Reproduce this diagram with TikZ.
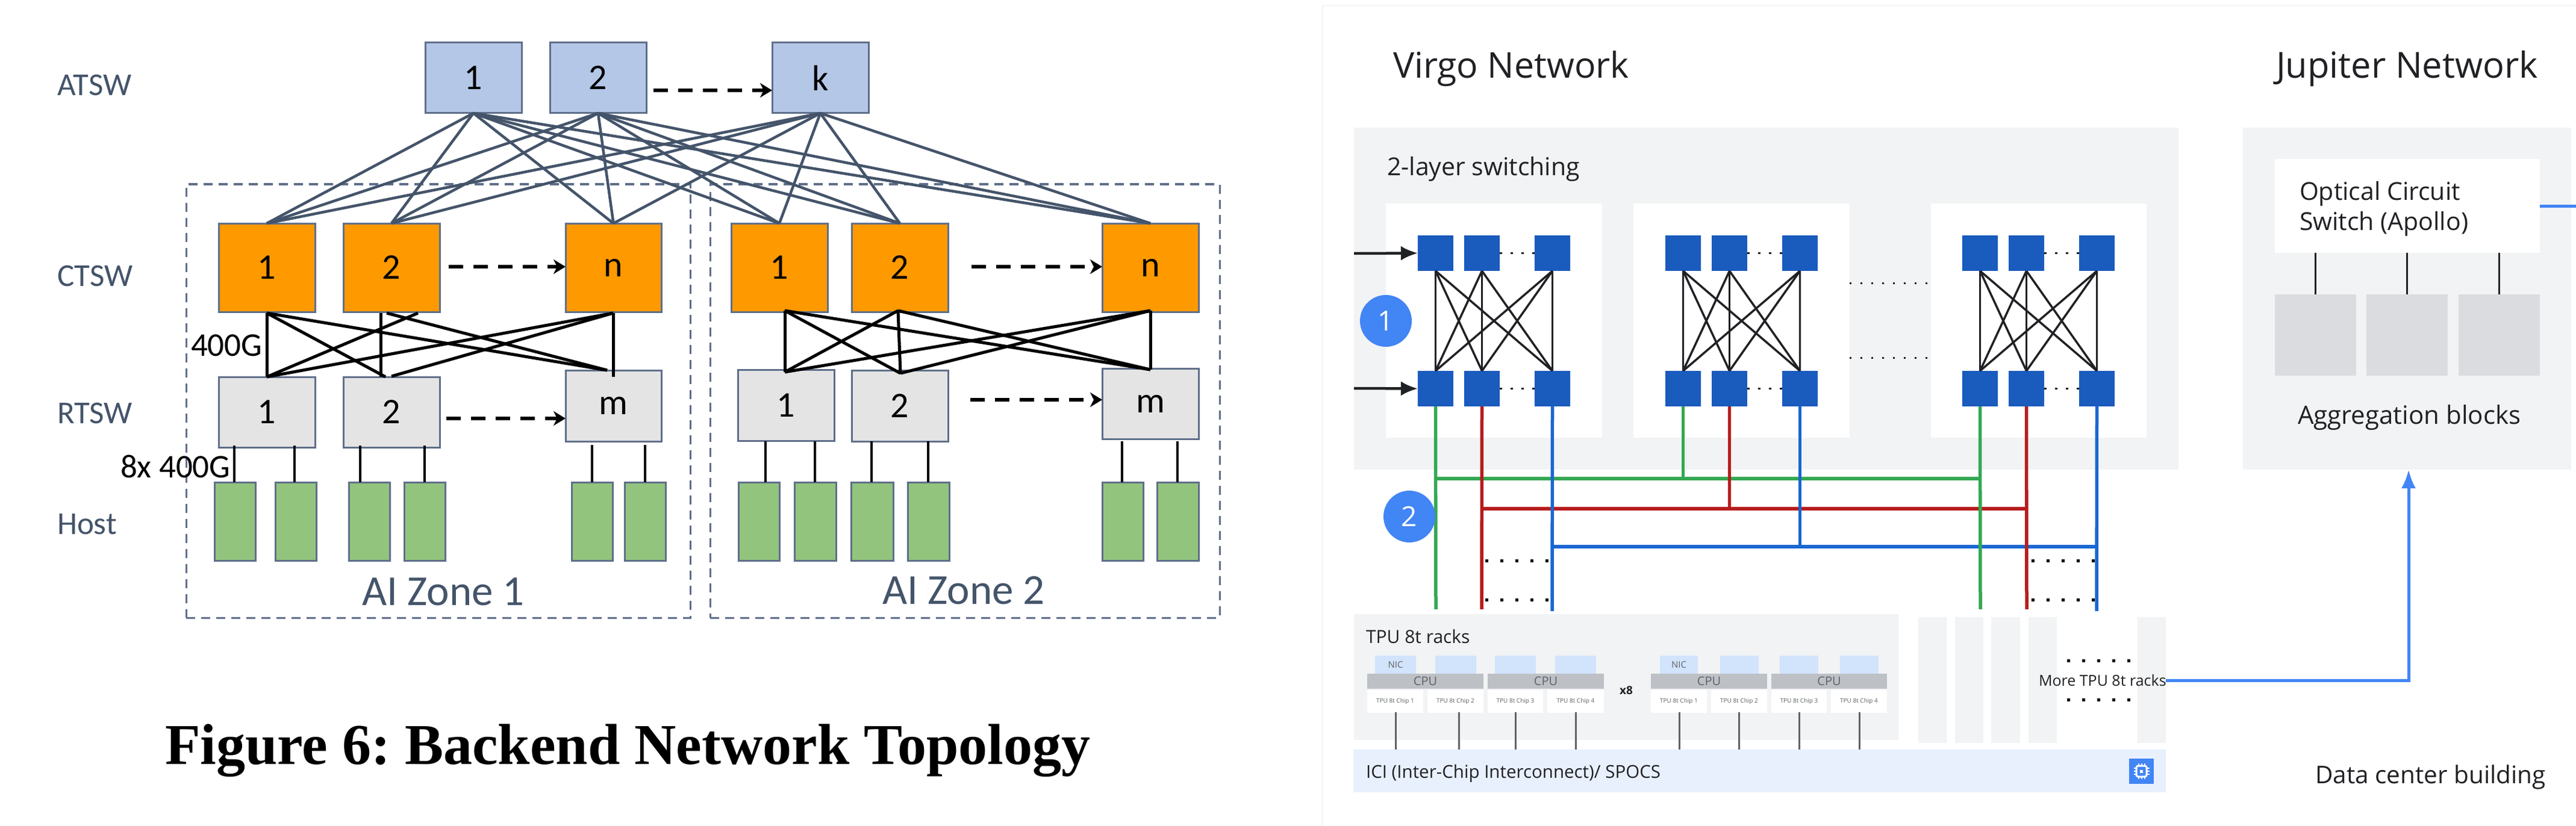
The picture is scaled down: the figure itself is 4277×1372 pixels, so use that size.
\documentclass[tikz,border=0pt]{standalone}
\usepackage{fontspec}
\usetikzlibrary{arrows.meta,calc}
\setmainfont{Open Sans}
\newfontfamily\cali{Carlito}
\newfontfamily\capf{Liberation Serif}
\newfontfamily\gsf{Open Sans}
\frenchspacing
\newcommand{\fs}[1]{\fontsize{#1}{#1}\selectfont}
\definecolor{slate}{HTML}{44546A}
\definecolor{edgec}{HTML}{5F6F8A}
\definecolor{atc}{HTML}{B4C7E7}
\definecolor{ctc}{HTML}{FF9900}
\definecolor{rtc}{HTML}{E4E4E4}
\definecolor{hoc}{HTML}{93C47D}
\definecolor{pan}{HTML}{F1F3F4}
\definecolor{sqb}{HTML}{1A5BBE}
\definecolor{gb}{HTML}{4285F4}
\definecolor{gg}{HTML}{34A853}
\definecolor{gr}{HTML}{B71C1C}
\definecolor{gbl}{HTML}{1967D2}
\definecolor{ink}{HTML}{202124}
\definecolor{mid}{HTML}{5F6368}
\definecolor{nicc}{HTML}{D2E3FC}
\definecolor{cpuc}{HTML}{BDC1C6}
\definecolor{icic}{HTML}{E8F0FE}
\definecolor{blk}{HTML}{DADCE0}
\newcommand{\boxn}[7]{%
  \pgfmathsetmacro\bw{#5-#3}\pgfmathsetmacro\bh{#6-#4}%
  \pgfmathsetmacro\cx{(#3+#5)/2}\pgfmathsetmacro\cy{(#4+#6)/2}%
  \node[#1,minimum width=\bw pt,minimum height=\bh pt] (#2) at (\cx,\cy) {#7};}
\newcommand{\vlink}[4]{\coordinate (#1) at (#2,#3); \draw[hostlink] (#1) -- (#1 |- #4.north);}
\tikzset{
  every node/.style={inner sep=0pt,outer sep=0pt},
  bx/.style={rectangle},
  sw/.style={bx,draw=edgec,line width=3pt,font=\cali\fs{60}},
  atsw/.style={sw,fill=atc},
  ctsw/.style={sw,fill=ctc},
  rtsw/.style={sw,fill=rtc},
  hostb/.style={bx,draw=edgec,line width=3pt,fill=hoc},
  zone/.style={bx,draw=edgec,line width=3pt,dash pattern=on 15pt off 10pt},
  lay/.style={anchor=base west,text=slate,font=\cali\fs{53}},
  zonet/.style={anchor=base,text=slate,font=\cali\fs{71}},
  rate/.style={anchor=base west,text=black,font=\cali\fs{55}},
  upmesh/.style={draw=slate,line width=4.5pt},
  lowmesh/.style={draw=black,line width=5pt},
  hostlink/.style={draw=black,line width=4.5pt},
  dasharr/.style={draw=black,line width=6pt,dash pattern=on 24pt off 17pt,-{Stealth[length=20pt,width=24pt,inset=6pt]}},
  pl/.style={bx,fill=pan},
  wh/.style={bx,fill=white},
  sq/.style={bx,fill=sqb},
  gt/.style={anchor=base west,text=ink,font=\gsf},
  vm/.style={draw=ink,line width=3.5pt},
  inarr/.style={draw=ink,line width=4.5pt,-{Latex[length=28pt,width=24pt]}},
  dotsmall/.style={draw=ink,line width=3.5pt,dash pattern=on 3.5pt off 14.5pt},
  dotbig/.style={draw=black,line width=5pt,dash pattern=on 5pt off 20pt},
  cir/.style={circle,fill=gb,minimum size=86pt,text=white,font=\gsf\fs{46}},
  gl/.style={draw=gg,line width=5.5pt},
  rl/.style={draw=gr,line width=5.5pt},
  bl/.style={draw=gbl,line width=5.5pt},
  chipl/.style={draw=mid,line width=3pt},
  nicb/.style={bx,fill=nicc,text=mid,font=\gsf\fs{15}},
  cpub/.style={bx,fill=cpuc,text=mid,font=\gsf\fs{20}},
  chipb/.style={bx,fill=white,text=mid,font=\gsf\fs{10}},
  upl/.style={draw=gb,line width=5pt},
}
\begin{document}
\begin{tikzpicture}[x=1pt,y=-1pt]
\useasboundingbox (0,0) rectangle (4277,1372);
\fill[white] (0,0) rectangle (4277,1372);
% ---------- left figure ----------
\boxn{zone}{z1}{309}{306}{1146}{1026}{}
\boxn{zone}{z2}{1179}{306}{2025}{1026}{}
\boxn{atsw}{a1}{706}{71}{866}{188}{1}
\boxn{atsw}{a2}{913}{71}{1073}{188}{2}
\boxn{atsw}{ak}{1282}{71}{1442}{188}{k}
\boxn{ctsw}{ca1}{363}{371}{523}{518}{1}
\boxn{ctsw}{ca2}{570}{371}{730}{518}{2}
\boxn{ctsw}{can}{939}{371}{1098}{518}{n}
\boxn{ctsw}{cb1}{1214}{371}{1374}{518}{1}
\boxn{ctsw}{cb2}{1414}{371}{1574}{518}{2}
\boxn{ctsw}{cbn}{1830}{371}{1990}{518}{n}
\boxn{rtsw}{ra1}{363}{626}{523}{743}{1}
\boxn{rtsw}{ra2}{570}{626}{730}{743}{2}
\boxn{rtsw}{ram}{939}{615}{1098}{733}{m}
\boxn{rtsw}{rb1}{1225}{614}{1385}{732}{1}
\boxn{rtsw}{rb2}{1414}{615}{1574}{733}{2}
\boxn{rtsw}{rbm}{1830}{612}{1990}{729}{m}
\foreach \nm/\xa/\xb in {h1/356/424,h2/457/525,h3/579/647,h4/671/739,h5/949/1017,h6/1037/1105,
  k1/1226/1294,k2/1319/1388,k3/1413/1483,k4/1507/1576,k5/1830/1898,k6/1921/1990}{
  \boxn{hostb}{\nm}{\xa}{801}{\xb}{931}{}
}
% ATSW to CTSW
\foreach \pp in {a1,a2,ak}\foreach \qq in {ca1,ca2,can,cb1,cb2,cbn}{
  \draw[upmesh] (\pp.south) -- (\qq.north);
}
% CTSW to RTSW zone 1
\coordinate (ua1) at (443,520); \coordinate (ua2) at (632,520);
\coordinate (ua2l) at (694,520); \coordinate (ua2r) at (642,520);
\coordinate (uan) at (1018,520);
\coordinate (la1) at (443,626); \coordinate (la2) at (640,626);
\coordinate (la2r) at (650,625); \coordinate (la2v) at (632,626);
\coordinate (lam) at (1018,626); \coordinate (lamb) at (1008,615);
\draw[lowmesh] (ua1) -- (la1);
\draw[lowmesh] (ua1) -- (la2);
\draw[lowmesh] (ua1) -- (lamb);
\draw[lowmesh] (ua2) -- (la2v);
\draw[lowmesh] (ua2l) -- (la1);
\draw[lowmesh] (ua2r) -- (lamb);
\draw[lowmesh] (uan) -- (la1);
\draw[lowmesh] (uan) -- (la2r);
\draw[lowmesh] (uan) -- (lam);
% CTSW to RTSW zone 2
\coordinate (ub1) at (1303,516); \coordinate (ub2) at (1491,516); \coordinate (ubn) at (1910,516);
\coordinate (lb1) at (1303,618); \coordinate (lb2) at (1495,620); \coordinate (lbm) at (1910,614);
\foreach \pp in {ub1,ub2,ubn}\foreach \qq in {lb1,lb2,lbm}{
  \draw[lowmesh] (\pp) -- (\qq);
}
% RTSW to hosts
\vlink{p1}{389}{740}{h1} \vlink{p2}{489}{740}{h2} \vlink{p3}{598}{740}{h3}
\vlink{p4}{705}{740}{h4} \vlink{p5}{983}{739}{h5} \vlink{p6}{1071}{739}{h6}
\vlink{q1}{1271}{733}{k1} \vlink{q2}{1353}{733}{k2} \vlink{q3}{1447}{733}{k3}
\vlink{q4}{1541}{733}{k4} \vlink{q5}{1863}{733}{k5} \vlink{q6}{1955}{733}{k6}
% dashed arrows
\coordinate (d1s) at (1085,150); \draw[dasharr] (d1s) -- (d1s -| ak.west);
\coordinate (d2s) at (745,443); \draw[dasharr] (d2s) -- (d2s -| can.west);
\coordinate (d3s) at (741,695); \draw[dasharr] (d3s) -- (d3s -| ram.west);
\coordinate (d4s) at (1613,443); \draw[dasharr] (d4s) -- (d4s -| cbn.west);
\coordinate (d5s) at (1611,664); \draw[dasharr] (d5s) -- (d5s -| rbm.west);
% labels
\node[lay] (tat) at (95,159) {ATSW};
\node[lay] (tct) at (95,475) {CTSW};
\node[lay] (trt) at (95,703) {RTSW};
\node[lay] (tho) at (95,887) {Host};
\node[rate] (t400) at (317,591) {400G};
\node[rate] (t8x) at (200,793) {8x 400G};
\node[zonet] (tz1) at (736,1005) {AI Zone 1};
\node[zonet] (tz2) at (1600,1003) {AI Zone 2};
\node[anchor=base west,font=\capf\bfseries\fs{96}] (cap) at (274,1269) {Figure 6: Backend Network Topology};
% ---------- right figure ----------
\draw[color=black!3,line width=3pt] (2195,1372) -- (2195,10) -- (4277,10);
\node[gt,font=\gsf\fs{59}] (tv) at (2313,130) {Virgo Network};
\node[gt,font=\gsf\fs{59.5}] (tj) at (3779,130) {Jupiter Network};
\boxn{pl}{vp}{2248}{212}{3617}{780}{}
\boxn{pl}{jp}{3724}{212}{4269}{780}{}
\node[gt,font=\gsf\fs{41}] (t2l) at (2303,292) {2-layer switching};
\boxn{wh}{w1}{2301}{338}{2660}{727}{}
\boxn{wh}{w2}{2712}{338}{3071}{727}{}
\boxn{wh}{w3}{3206}{338}{3564}{727}{}
\foreach \g/\xa/\xb/\xc in {a/2354/2431/2548,b/2765/2842/2959,c/3258/3335/3452}{
  \pgfmathsetmacro\xaa{\xa+59}\pgfmathsetmacro\xbb{\xb+59}\pgfmathsetmacro\xcc{\xc+59}
  \boxn{sq}{t\g1}{\xa}{391}{\xaa}{450}{}
  \boxn{sq}{t\g2}{\xb}{391}{\xbb}{450}{}
  \boxn{sq}{t\g3}{\xc}{391}{\xcc}{450}{}
  \boxn{sq}{b\g1}{\xa}{616}{\xaa}{675}{}
  \boxn{sq}{b\g2}{\xb}{616}{\xbb}{675}{}
  \boxn{sq}{b\g3}{\xc}{616}{\xcc}{675}{}
  \draw[dotsmall] (t\g2.east) -- (t\g3.west);
  \draw[dotsmall] (b\g2.east) -- (b\g3.west);
  \foreach \pp in {1,2,3}\foreach \qq in {1,2,3}{
    \draw[vm] (t\g\pp.south) -- (b\g\qq.north);
  }
}
\coordinate (in1) at (2248,421); \draw[inarr] (in1) -- (ta1.west);
\coordinate (in2) at (2248,645); \draw[inarr] (in2) -- (ba1.west);
\draw[draw=ink,line width=3pt,dash pattern=on 3pt off 15pt] (w2.east |- 0,470) -- (w3.west |- 0,470);
\draw[draw=ink,line width=3pt,dash pattern=on 3pt off 15pt] (w2.east |- 0,594) -- (w3.west |- 0,594);
\node[cir] (n1) at (2301,533) {1};
% racks
\boxn{pl}{rk}{2248}{1020}{3152}{1229}{}
\foreach \nm/\xa/\xb in {r1/3185/3232,r2/3246/3293,r3/3306/3354,r4/3368/3415,r5/3549/3596}{
  \boxn{pl}{\nm}{\xa}{1025}{\xb}{1234}{}
}
\boxn{bx,fill=icic}{ici}{2247}{1245}{3596}{1316}{}
\foreach \nm/\xa/\xb/\tx in {na1/2283/2351/NIC,na2/2383/2451/,na3/2482/2550/,na4/2582/2650/,
  nb1/2756/2819/NIC,nb2/2856/2920/,nb3/2955/3019/,nb4/3055/3119/}{
  \boxn{nicb}{\nm}{\xa}{1089}{\xb}{1119}{\tx}
}
\foreach \nm/\xa/\xb in {ua/2270/2463,ub/2470/2663,uc/2741/2934,ud/2941/3133}{
  \boxn{cpub}{\nm}{\xa}{1119}{\xb}{1144}{CPU}
}
\foreach \nm/\xa/\xb/\lx/\tx in {
  ca/2270/2363/2317/1,cb/2370/2463/2422/2,cc/2470/2562/2516/3,cd/2569/2663/2616/4,
  ce/2741/2834/2788/1,cf/2841/2934/2887/2,cg/2941/3033/2987/3,ch/3040/3133/3087/4}{
  \boxn{chipb}{\nm}{\xa}{1146}{\xb}{1184}{TPU 8t Chip \tx}
  \coordinate (s\nm) at (\lx,1183);
  \draw[chipl] (s\nm) -- (s\nm |- ici.north);
}
\node[gt,font=\gsf\fs{30}] (trk) at (2268,1068) {TPU 8t racks};
\node[anchor=center,text=ink,font=\gsf\bfseries\fs{19}] (tx8) at (2700,1147) {x8};
\node[gt,font=\gsf\fs{29.5}] (tici) at (2268,1292) {ICI (Inter-Chip Interconnect)/ SPOCS};
\node[gt,font=\gsf\fs{25}] (tmore) at (3385,1139) {More TPU 8t racks};
\draw[dotbig] (3432,1097) -- (3537,1097);
\draw[dotbig] (3432,1162) -- (3537,1162);
% coloured trunks
\coordinate (ge) at (2384,1012); \coordinate (re) at (2460,1012); \coordinate (be) at (2577,1015);
\coordinate (ge3) at (3288,1012); \coordinate (re3) at (3365,1012); \coordinate (be3) at (3481,1015);
\coordinate (gj1) at (2384,795); \coordinate (gj3) at (3288,795);
\coordinate (rj1) at (2460,845); \coordinate (rj3) at (3365,845);
\coordinate (bj1) at (2577,908); \coordinate (bj3) at (3481,908);
\draw[gl] (gj1) -- (gj3);
\draw[rl] (rj1) -- (rj3);
\draw[bl] (bj1) -- (bj3);
\draw[gl] (ba1.south) -- (ge);
\draw[rl] (ba2.south) -- (re);
\draw[bl] (ba3.south) -- (be);
\draw[gl] (bb1.south) -- (bb1.south |- gj1);
\draw[rl] (bb2.south) -- (bb2.south |- rj1);
\draw[bl] (bb3.south) -- (bb3.south |- bj1);
\draw[gl] (bc1.south) -- (ge3);
\draw[rl] (bc2.south) -- (re3);
\draw[bl] (bc3.south) -- (be3);
\draw[dotbig] (2466,931) -- (2571,931);
\draw[dotbig] (2466,996) -- (2571,996);
\draw[dotbig] (3373,931) -- (3478,931);
\draw[dotbig] (3373,996) -- (3478,996);
\node[cir] (n2) at (2340,858) {2};
% jupiter
\boxn{wh}{ocs}{3777}{264}{4217}{420}{}
\node[gt,font=\gsf\fs{41}] (to1) at (3818,332) {Optical Circuit};
\node[gt,font=\gsf\fs{41}] (to2) at (3818,382) {Switch (Apollo)};
\boxn{bx,fill=blk}{ag1}{3777}{489}{3912}{624}{}
\boxn{bx,fill=blk}{ag2}{3929}{489}{4064}{624}{}
\boxn{bx,fill=blk}{ag3}{4082}{489}{4217}{624}{}
\foreach \nm in {ag1,ag2,ag3}{ \draw[vm] (\nm.north) -- (\nm.north |- ocs.south); }
\node[gt,font=\gsf\fs{42}] (tag) at (3815,704) {Aggregation blocks};
\node[gt,font=\gsf\fs{40.5}] (tdc) at (3844,1301) {Data center building};
\coordinate (rout) at (4277,342); \draw[upl] (ocs.east |- rout) -- (rout);
\coordinate (dcbend) at (3999,1130);
\draw[upl,-{Latex[length=31pt,width=24pt]}] (r5.east |- dcbend) -- (dcbend) -- (dcbend |- jp.south);
% chip icon
\boxn{bx,fill=gb}{chip}{3535}{1260}{3576}{1302}{}
\node[bx,draw=white,line width=3pt,minimum width=17pt,minimum height=18pt,rounded corners=3pt] (chipi) at (chip.center) {};
\node[bx,fill=white,minimum size=5pt] (chipd) at (chip.center) {};
\foreach \ox in {-5,0,5}{
  \draw[white,line width=2pt] ($(chip.center)+(\ox,-9)$) -- ++(0,-4);
  \draw[white,line width=2pt] ($(chip.center)+(\ox,9)$) -- ++(0,4);
  \draw[white,line width=2pt] ($(chip.center)+(-9,\ox)$) -- ++(-4,0);
  \draw[white,line width=2pt] ($(chip.center)+(9,\ox)$) -- ++(4,0);
}
\end{tikzpicture}
\end{document}
